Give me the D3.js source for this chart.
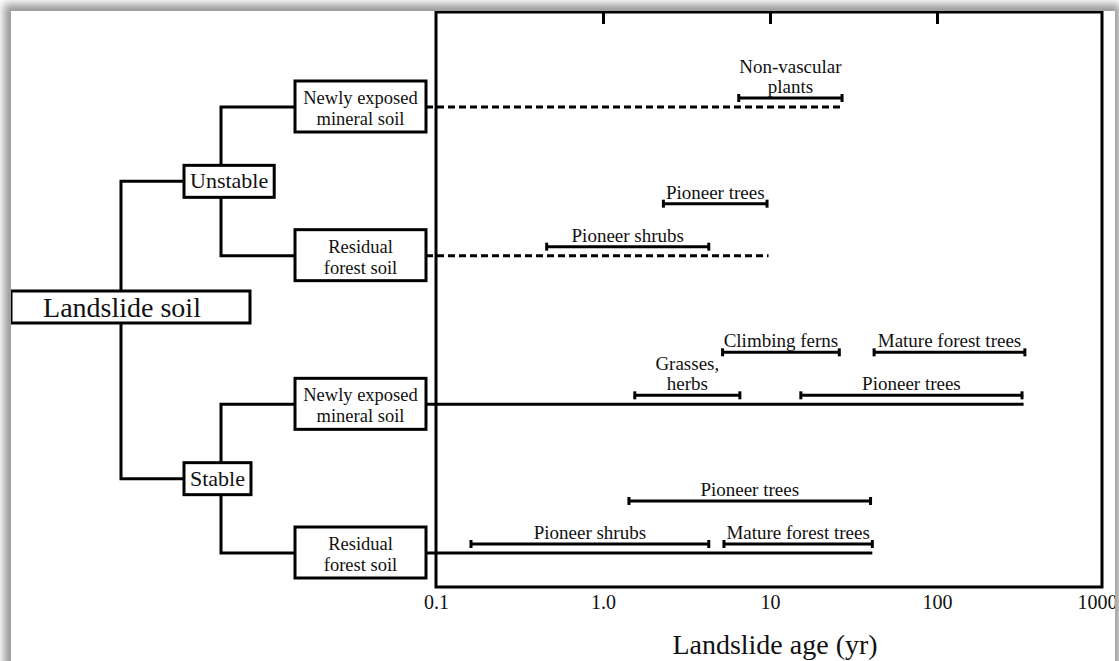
<!DOCTYPE html>
<html lang="en">
<head>
    <meta charset="UTF-8">
    <title>Landslide soil succession</title>
    <script src="https://d3js.org/d3.v7.js"></script>
    <style>
        body { margin: 0; background: #fff; }
        svg text { font-family: "Liberation Serif", "Times New Roman", serif; fill: #111; }
    </style>
</head>
<body>

<svg id="chart" width="1119" height="661"></svg>

<script>

// Axis ticks
var tickValues = [0.1, 1, 10, 100, 1000];
var tickLabels = ["0.1", "1.0", "10", "100", "1000"];

// Soil rows (tree leaves)
var stages = ["Unstable", "Stable"];
var rowStage = [0, 0, 1, 1];
var rowSoil = [["Newly exposed", "mineral soil"], ["Residual", "forest soil"],
               ["Newly exposed", "mineral soil"], ["Residual", "forest soil"]];
var rowDashed = [true, true, false, false];
var rowEnd = [27, 9.8, 330, 41];

// Vegetation ranges (yr)
var taxa = [["Non-vascular", "plants"], ["Pioneer trees"], ["Pioneer shrubs"],
            ["Climbing ferns"], ["Mature forest trees"], ["Grasses,", "herbs"], ["Pioneer trees"],
            ["Pioneer trees"], ["Pioneer shrubs"], ["Mature forest trees"]];
var taxaRow   = [0, 1, 1, 2, 2, 2, 2, 3, 3, 3];
var taxaLane  = [1, 2, 1, 2, 2, 1, 1, 2, 1, 1];
var taxaStart = [6.5, 2.3, 0.46, 5.2, 42, 1.55, 15.3, 1.43, 0.162, 5.3];
var taxaEnd   = [27, 9.6, 4.3, 26, 336, 6.6, 323, 40, 4.3, 41];

var svg = d3.select("#chart");

// paper with a soft shadow
var defs = svg.append("defs");
defs.append("filter").attr("id", "blur")
    .attr("x", "-5%").attr("y", "-5%").attr("width", "110%").attr("height", "110%")
  .append("feGaussianBlur").attr("stdDeviation", 4);
defs.append("clipPath").attr("id", "paperClip")
  .append("rect").attr("x", 11).attr("y", 11).attr("width", 1104).attr("height", 700);

svg.append("rect").attr("x", 4).attr("y", 4).attr("width", 1116).attr("height", 720)
    .attr("fill", "#999").attr("filter", "url(#blur)");
svg.append("rect").attr("x", 11).attr("y", 11).attr("width", 1104).attr("height", 700)
    .attr("fill", "#fff");

var g = svg.append("g").attr("clip-path", "url(#paperClip)");

// scales
var x = d3.scaleLog().domain([0.1, 1000]).range([436, 1104]);
var y = d3.scalePoint().domain(d3.range(rowSoil.length)).range([107, 553]);
var lane = d3.scaleOrdinal().domain([1, 2]).range([-9, -52]);

var frameTop = 12, frameBottom = 587;

// frame
g.append("rect")
    .attr("x", x(0.1)).attr("y", frameTop)
    .attr("width", x(1000) - 2 - x(0.1)).attr("height", frameBottom - frameTop)
    .attr("fill", "none").attr("stroke", "#000").attr("stroke-width", 3);

// top ticks
var topAxis = g.append("g").attr("transform", "translate(0," + frameTop + ")")
    .call(d3.axisBottom(x).tickValues([1, 10, 100]).tickSize(12).tickFormat(""));
topAxis.select(".domain").remove();
topAxis.selectAll("line").attr("stroke", "#000").attr("stroke-width", 3);

// bottom labels
var bottomAxis = g.append("g").attr("transform", "translate(0," + frameBottom + ")")
    .call(d3.axisBottom(x).tickValues(tickValues).tickSize(0).tickPadding(8)
        .tickFormat(function (d, i) { return tickLabels[i]; }));
bottomAxis.select(".domain").remove();
bottomAxis.selectAll("text").attr("font-size", 20)
    .attr("font-family", "Liberation Serif").attr("fill", "#111")
    .attr("dx", function (d) { return d === 1000 ? -7 : 0; });

g.append("text")
    .attr("x", 775).attr("y", 654)
    .attr("text-anchor", "middle").attr("font-size", 28)
    .text("Landslide age (yr)");

// tree layout
var rootX = 121, stageX = 221, stageLeft = 184, soilLeft = 295, soilRight = 426;
var rootY = 307;
var stageY = stages.map(function (s, k) {
    var r = d3.range(rowStage.length).filter(function (i) { return rowStage[i] === k; });
    return (y(r[0]) + y(r[r.length - 1])) / 2;
});

var lineStyle = function (sel) {
    return sel.attr("fill", "none").attr("stroke", "#000").attr("stroke-width", 3);
};

// root connector
g.append("path").call(lineStyle)
    .attr("d", "M" + stageLeft + "," + stageY[0] + "H" + rootX + "V" + stageY[1] + "H" + stageLeft);

// stage connectors
stages.forEach(function (s, k) {
    var r = d3.range(rowStage.length).filter(function (i) { return rowStage[i] === k; });
    g.append("path").call(lineStyle)
        .attr("d", "M" + soilLeft + "," + y(r[0]) + "H" + stageX + "V" + y(r[r.length - 1]) + "H" + soilLeft);
});

// baselines from soil boxes
g.selectAll(".baseline")
    .data(d3.range(rowSoil.length))
    .enter()
    .append("line")
      .attr("x1", soilRight).attr("x2", function (i) { return x(rowEnd[i]); })
      .attr("y1", function (i) { return y(i); }).attr("y2", function (i) { return y(i); })
      .attr("stroke", "#000").attr("stroke-width", 3)
      .attr("stroke-dasharray", function (i) { return rowDashed[i] ? "7,4" : null; });

// root box
g.append("rect").call(lineStyle).attr("fill", "#fff")
    .attr("x", 11).attr("y", rootY - 16).attr("width", 239).attr("height", 32);
g.append("text").attr("x", 122).attr("y", rootY + 10)
    .attr("text-anchor", "middle").attr("font-size", 28).text("Landslide soil");

// stage boxes sized to their text
stages.forEach(function (s, k) {
    var t = g.append("text").attr("x", stageLeft + 6).attr("y", stageY[k] + 7)
        .attr("font-size", 22).text(s);
    var w = t.node().getComputedTextLength();
    g.insert("rect", function () { return t.node(); }).call(lineStyle).attr("fill", "#fff")
        .attr("x", stageLeft).attr("y", stageY[k] - 16)
        .attr("width", w + 12).attr("height", 32);
});

// soil boxes
var soil = g.selectAll(".soil")
    .data(d3.range(rowSoil.length))
    .enter()
    .append("g");
soil.append("rect").call(lineStyle).attr("fill", "#fff")
    .attr("x", soilLeft).attr("y", function (i) { return y(i) - 26; })
    .attr("width", soilRight - soilLeft).attr("height", 51);
soil.each(function (i) {
    d3.select(this).selectAll("text")
        .data(rowSoil[i])
        .enter()
        .append("text")
          .attr("x", (soilLeft + soilRight) / 2)
          .attr("y", function (d, j) { return y(i) - 3 + j * 21; })
          .attr("text-anchor", "middle").attr("font-size", 18.5)
          .text(function (d) { return d; });
});

// vegetation range bars
var bars = g.selectAll(".bar")
    .data(d3.range(taxa.length))
    .enter()
    .append("g")
      .attr("transform", function (i) { return "translate(0," + (y(taxaRow[i]) + lane(taxaLane[i])) + ")"; });

bars.append("line")
    .attr("x1", function (i) { return x(taxaStart[i]); })
    .attr("x2", function (i) { return x(taxaEnd[i]); })
    .attr("stroke", "#000").attr("stroke-width", 3);
bars.selectAll(".cap")
    .data(function (i) { return [taxaStart[i], taxaEnd[i]]; })
    .enter()
    .append("line")
      .attr("x1", function (d) { return x(d); }).attr("x2", function (d) { return x(d); })
      .attr("y1", -4).attr("y2", 4)
      .attr("stroke", "#000").attr("stroke-width", 3);
bars.each(function (i) {
    var lines = taxa[i];
    var mid = (x(taxaStart[i]) + x(taxaEnd[i])) / 2;
    d3.select(this).selectAll("text")
        .data(lines)
        .enter()
        .append("text")
          .attr("x", mid)
          .attr("y", function (d, j) { return -5 - (lines.length - 1 - j) * 20; })
          .attr("text-anchor", "middle").attr("font-size", 19)
          .text(function (d) { return d; });
});

</script>
</body>
</html>
